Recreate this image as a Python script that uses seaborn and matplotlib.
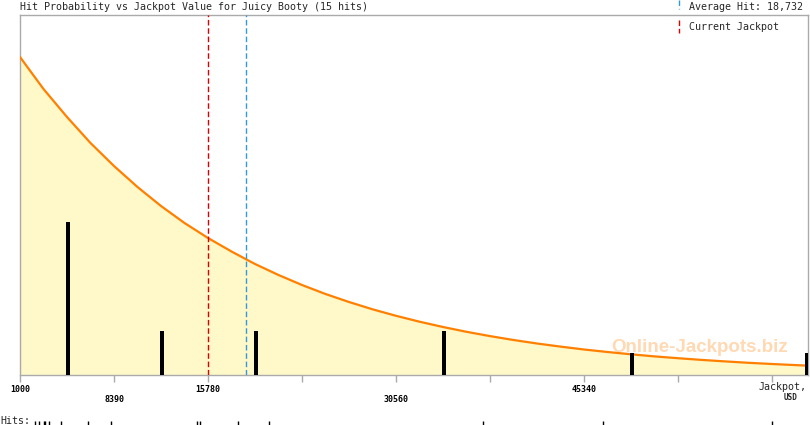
import numpy as np
import pandas as pd
import matplotlib.pyplot as plt
from matplotlib.lines import Line2D
import seaborn as sns

# Chart values
jackpot = [1000, 2848, 4695, 6543, 8390, 10238, 12085, 13933, 15780,
           17628, 19475, 21323, 23170, 25018, 26865, 28713, 30560, 32408,
           34255, 36103, 37950, 39798, 41645, 43493, 45340, 47188, 49035,
           50883, 52730, 54578, 56425, 58273, 60120, 61968, 63815]
hit_prob = [31.8, 28.6, 25.8, 23.2, 20.9, 18.8, 16.9, 15.2, 13.7,
            12.35, 11.1, 10.0, 9.0, 8.1, 7.3, 6.57, 5.92, 5.33,
            4.8, 4.32, 3.89, 3.5, 3.15, 2.84, 2.55, 2.3, 2.07,
            1.86, 1.68, 1.51, 1.36, 1.22, 1.1, 0.99, 0.89]

bin_centers = [4800, 12190, 19580, 34360, 49140, 62860]
bin_counts = [7, 2, 2, 2, 1, 1]

hits = [2179, 2533, 2887, 2966, 3280, 4200, 6346, 8154,
        14940, 15152, 18140, 20577, 37400, 46830, 60120]

tick_values = [1000, 8390, 15780, 23170, 30560, 37950, 45340, 52730, 60120]
tick_labels = ["1000", "\n8390", "15780", "", "\n30560", "", "45340", "", ""]

current_jackpot = 15780
average_hit = 18732

x_max = 62950
mono = "DejaVu Sans Mono"

sns.set_theme(style="white")
plt.rcParams["font.family"] = ["DejaVu Sans Mono", "DejaVu Sans"]

df = pd.DataFrame({"jackpot": jackpot, "prob": hit_prob})

fig = plt.figure(figsize=(8.1, 4.25), dpi=100)
ax = fig.add_axes([20 / 810, 50 / 425, 788 / 810, 360 / 425])

# probability curve with filled area
ax.fill_between(df["jackpot"], df["prob"], color="#FFF8C8", lw=0, zorder=1)
sns.lineplot(data=df, x="jackpot", y="prob", ax=ax, color="#FF8000", lw=1.6, zorder=4)

ax.text(0.862, 0.075, "Online-Jackpots.biz", transform=ax.transAxes,
        ha="center", va="center", fontsize=13.5, fontweight="bold",
        family="Liberation Sans", color="#FFD9B3", zorder=2)

ax.axvline(current_jackpot, color="#DD0000", lw=1, ls=(0, (4, 2)), zorder=5)
ax.axvline(average_hit, color="#3399DD", lw=1, ls=(0, (4, 2)), zorder=5)

ax.set_xlim(1000, x_max)
ax.set_ylim(0, 36)
ax.set_xlabel("")
ax.set_ylabel("")
ax.set_yticks([])
ax.set_xticks(tick_values)
ax.set_xticklabels(tick_labels, fontsize=6, family=mono, fontweight="bold")
for lab in ax.get_xticklabels():
    lab.set_linespacing(1.2)
ax.tick_params(axis="x", bottom=True, length=5, width=1, color="#AAAAAA", pad=2, labelcolor="black")
for sp in ax.spines.values():
    sp.set_color("#AAAAAA")
    sp.set_linewidth(1)

# hit counts per bin on a twin axis
ax2 = ax.twinx()
ax2.bar(bin_centers, bin_counts, width=290, color="black", lw=0, zorder=6)
ax2.set_ylim(0, 16.44)
ax2.set_xlim(1000, x_max)
ax2.set_yticks([])
for sp in ax2.spines.values():
    sp.set_visible(False)

ax.text(0.9975, -0.033, "Jackpot,", transform=ax.transAxes, ha="right", va="center",
        fontsize=7.2, family=mono)
ax.text(0.978, -0.062, "USD", transform=ax.transAxes, ha="center", va="center",
        fontsize=5.5, family=mono, fontweight="bold")

# individual hits row
axh = fig.add_axes([20 / 810, 0, 788 / 810, 4 / 425])
sns.rugplot(x=hits, ax=axh, height=1.0, color="black", lw=1, expand_margins=False)
axh.set_xlim(1000, x_max)
axh.set_ylim(0, 1)
axh.axis("off")
fig.text(0.0, 1 / 425, "Hits:", ha="left", va="baseline", fontsize=7.2, family=mono)

# title and legend
fig.text(20 / 810, 1 - 7 / 425, "Hit Probability vs Jackpot Value for Juicy Booty (15 hits)",
         ha="left", va="center", fontsize=7.2, family=mono)
fig.add_artist(Line2D([679 / 810, 679 / 810], [1, 1 - 9 / 425], transform=fig.transFigure,
                      color="#3399DD", lw=1, ls=(0, (4, 2))))
fig.add_artist(Line2D([679 / 810, 679 / 810], [1 - 20 / 425, 1 - 33 / 425], transform=fig.transFigure,
                      color="#DD0000", lw=1, ls=(0, (4, 2))))
fig.text(689 / 810, 1 - 7 / 425, "Average Hit: 18,732", ha="left", va="center", fontsize=7.2, family=mono)
fig.text(689 / 810, 1 - 27 / 425, "Current Jackpot", ha="left", va="center", fontsize=7.2, family=mono)

fig.savefig("out.png", dpi=100)
